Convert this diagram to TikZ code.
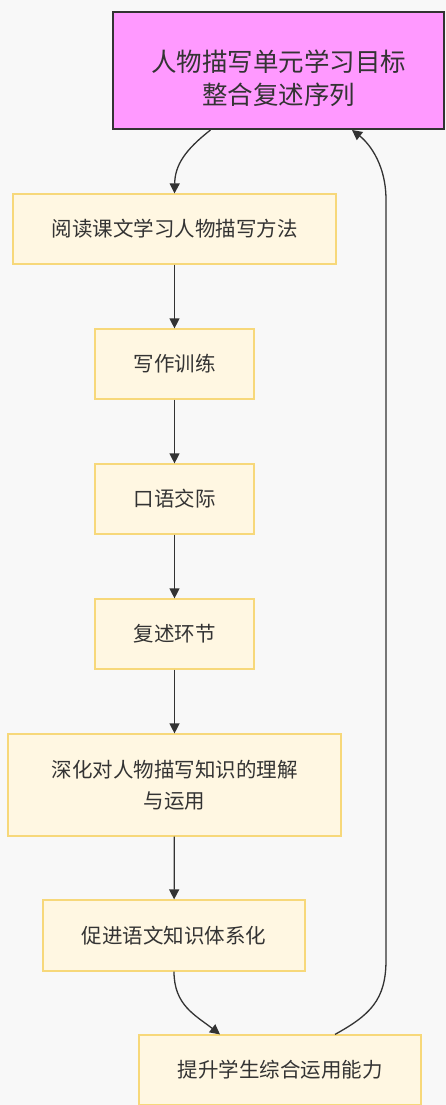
\documentclass[tikz,border=0pt]{standalone}
\usepackage{fontspec}
\setmainfont{Noto Sans CJK SC}
\usetikzlibrary{arrows.meta}
\definecolor{bg}{HTML}{F8F8F8}
\definecolor{boxfill}{HTML}{FFF7E2}
\definecolor{boxline}{HTML}{F7D87A}
\definecolor{topfill}{HTML}{FF99FF}
\definecolor{txt}{HTML}{333333}
\definecolor{edge}{HTML}{333333}
\tikzset{
  stepbox/.style={draw=boxline, fill=boxfill, line width=1.2pt, inner sep=0pt,
    align=center, font=\fontsize{20.5}{31}\selectfont, text=txt},
  topbox/.style={draw=txt, fill=topfill, line width=2pt, inner sep=0pt,
    align=center, font=\fontsize{25.5}{33}\selectfont, text=txt},
  arr/.style={draw=edge, line width=1.3pt, -{Triangle[length=10pt,width=10pt]}},
}
\begin{document}
\begin{tikzpicture}[x=1pt,y=-1pt]
\fill[bg] (0,0) rectangle (446,1105);
\useasboundingbox (0,0) rectangle (446,1105);
\node[topbox, minimum width=331pt, minimum height=117pt] (top) at (278.5,70.5) {\rule{0pt}{38pt}人物描写单元学习目标\\整合复述序列};
\node[stepbox, minimum width=323pt, minimum height=70pt] (n2) at (174.5,229) {阅读课文学习人物描写方法};
\node[stepbox, minimum width=159pt, minimum height=70pt] (n3) at (174.5,364) {写作训练};
\node[stepbox, minimum width=159pt, minimum height=70pt] (n4) at (174.5,499) {口语交际};
\node[stepbox, minimum width=159pt, minimum height=70pt] (n5) at (174.5,634) {复述环节};
\node[stepbox, minimum width=333pt, minimum height=102pt] (n6) at (174.5,785) {深化对人物描写知识的理解\\与运用};
\node[stepbox, minimum width=262pt, minimum height=71pt] (n7) at (174,935.5) {促进语文知识体系化};
\node[stepbox, minimum width=282pt, minimum height=70pt] (n8) at (280,1070) {提升学生综合运用能力};
\coordinate (rtop) at (386,200);
\coordinate (rbot) at (386,960);
\draw[arr] ([xshift=-68pt]top.south) .. controls (185,150) and (175,165) .. (n2.north);
\draw[arr] (n2) -- (n3);
\draw[arr] (n3) -- (n4);
\draw[arr] (n4) -- (n5);
\draw[arr] (n5) -- (n6);
\draw[arr] (n6) -- (n7);
\draw[arr] (n7.south) .. controls (174,1005) and (195,1015) .. ([xshift=-60pt]n8.north);
\draw[arr] ([xshift=55pt]n8.north) .. controls (370,1015) and (386,1000) .. (rbot) -- (rtop) .. controls (386,160) and (365,140) .. ([xshift=73.5pt]top.south);
\end{tikzpicture}
\end{document}
